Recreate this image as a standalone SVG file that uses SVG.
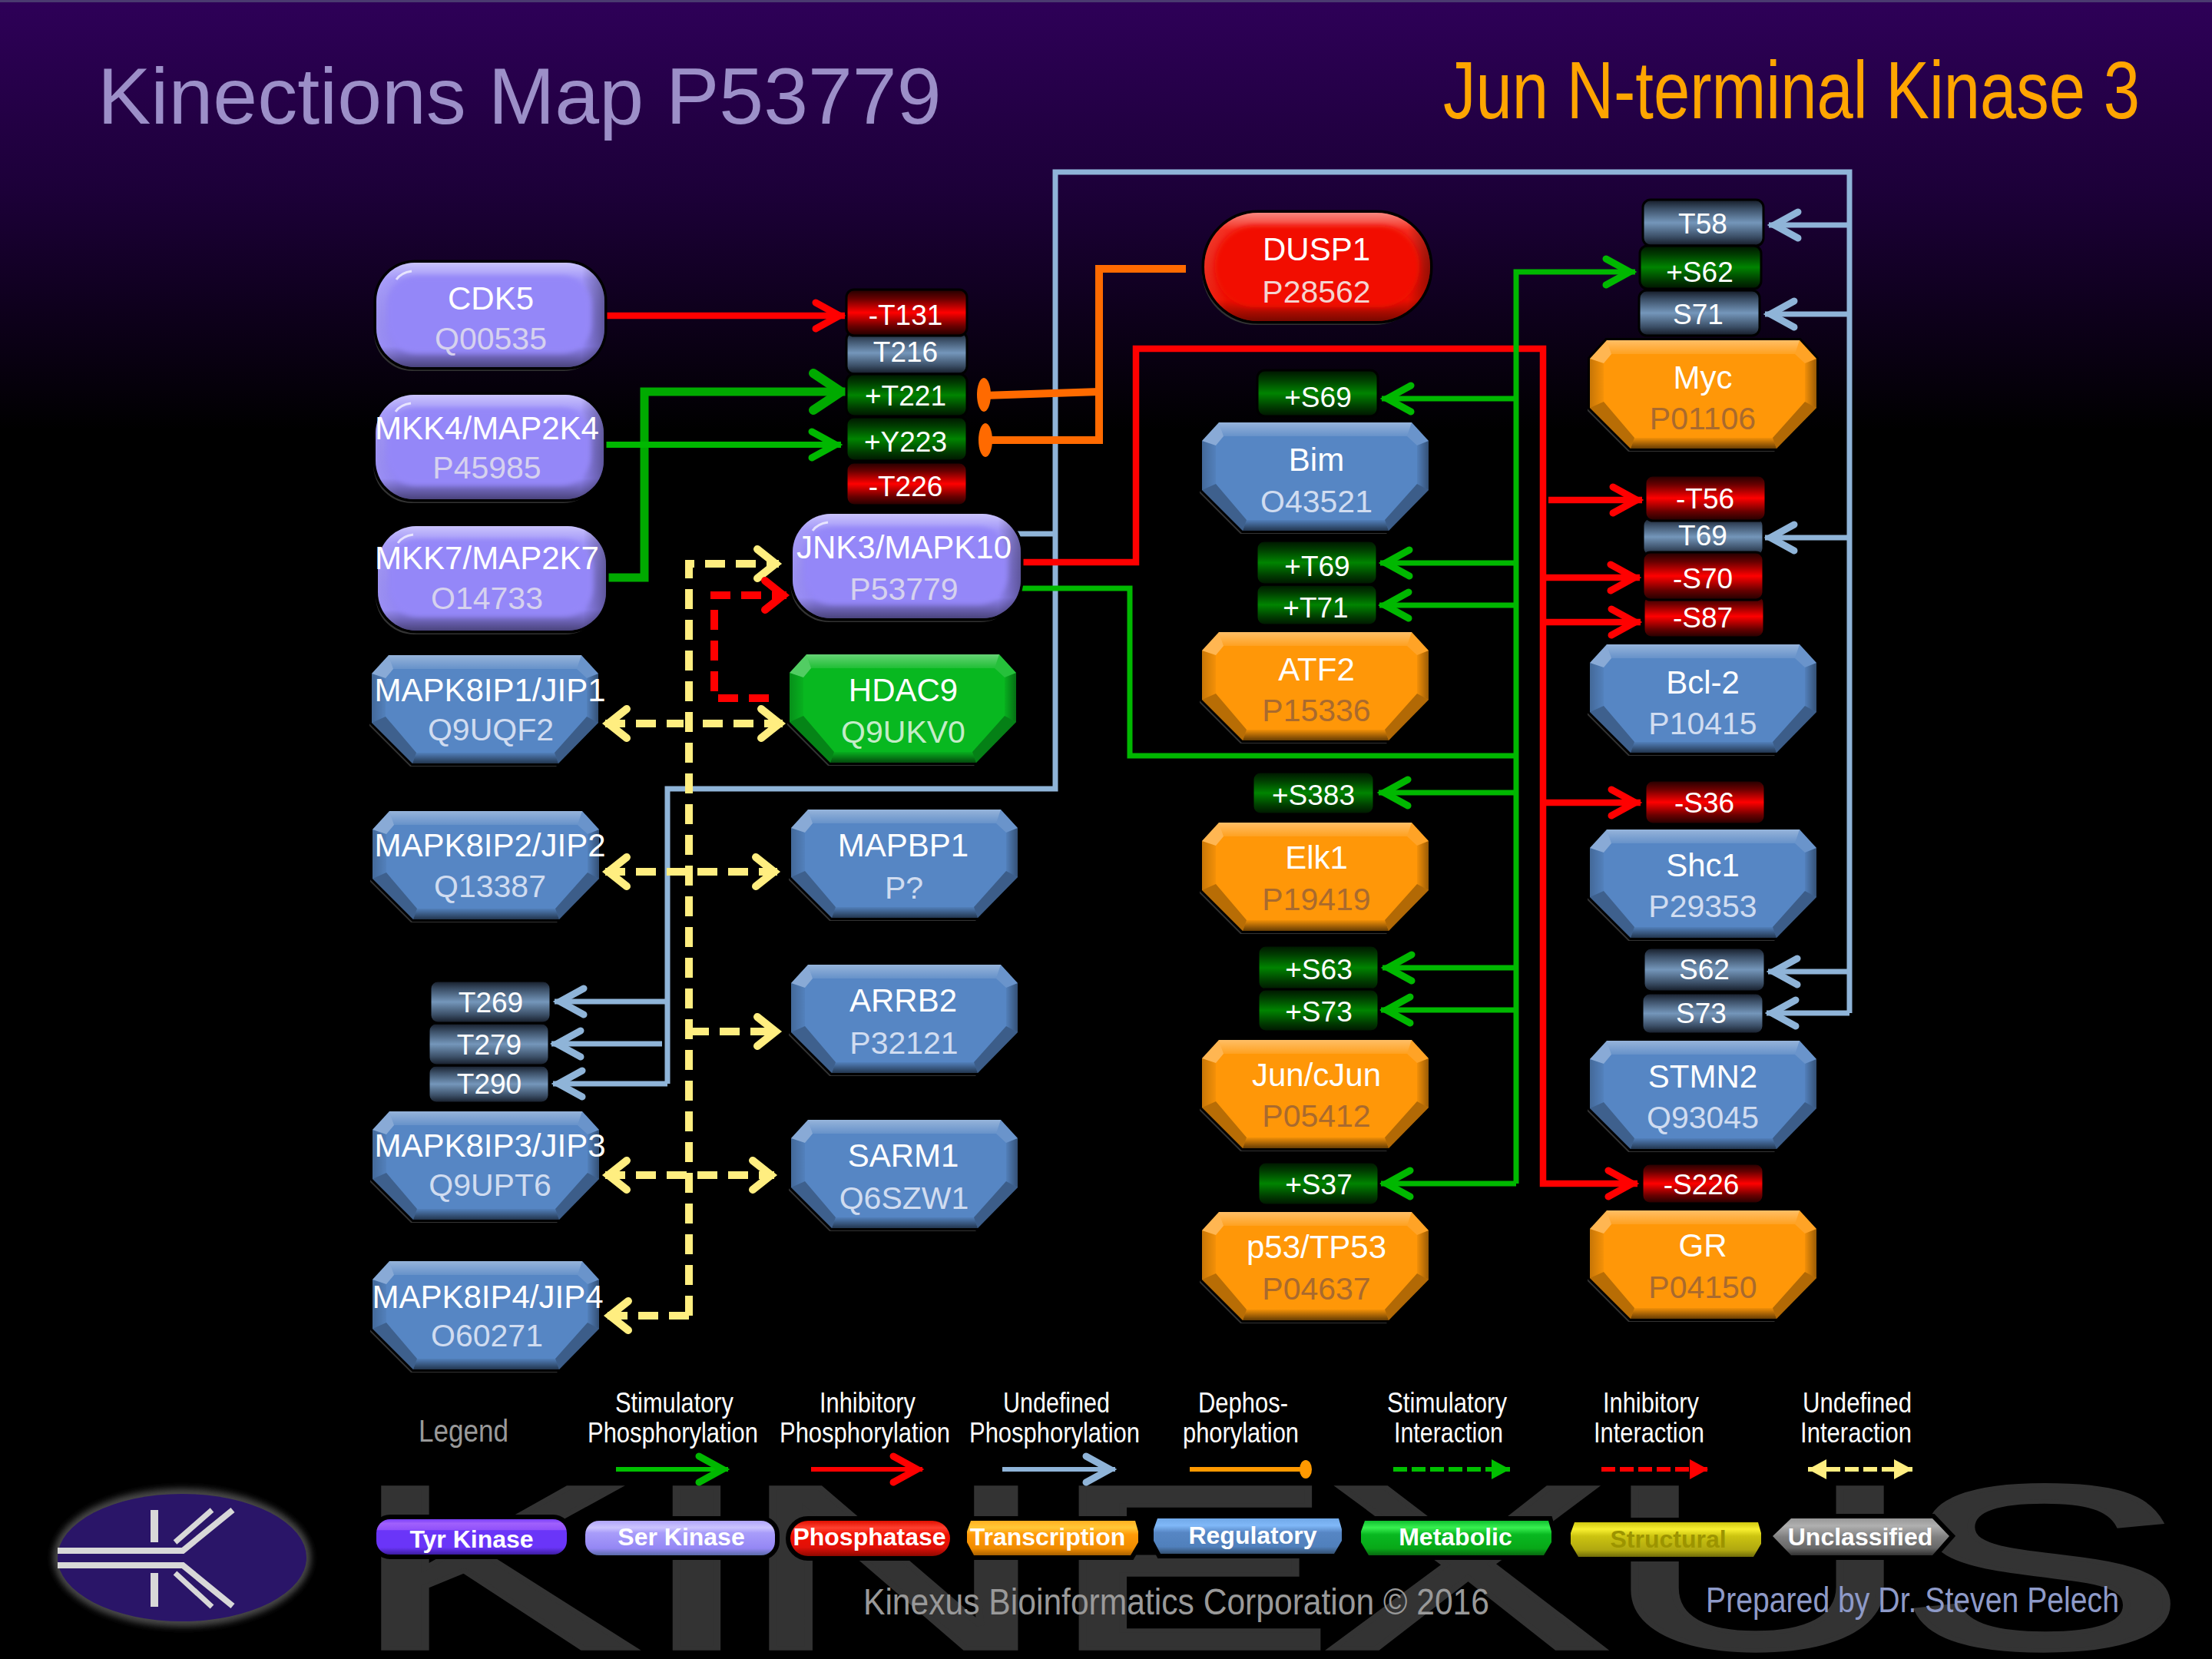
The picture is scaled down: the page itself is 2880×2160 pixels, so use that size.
<svg xmlns="http://www.w3.org/2000/svg" width="2880" height="2160" viewBox="0 0 2880 2160">
<style>
text{font-family:"Liberation Sans",Arial,sans-serif}
.n{font-size:42px;fill:#fff;text-anchor:middle}
.a{font-size:41px;text-anchor:middle}
.a-p{fill:#d6d2ee}.a-b{fill:#d0dcf0}.a-o{fill:#a96a2e}.a-g{fill:#c4ecc8}.a-r{fill:#f4d4d0}
.purple{fill:#9487f8}.blue{fill:#5686c4}.orange{fill:#ff9708}.green{fill:#08b820}.red{fill:#f21000}
.site{rx:10px;stroke:#000;stroke-width:3}
.s-g{fill:url(#siteG)}.s-r{fill:url(#siteR)}.s-u{fill:url(#siteU)}
.t{font-size:37px;fill:#fff;text-anchor:middle}
.c{fill:none;stroke-linejoin:miter}
.gr{stroke:#00b800;stroke-width:7}.rd{stroke:#ff0000;stroke-width:8.5}.bl{stroke:#8fb4d8;stroke-width:7}
.or{stroke:#ff6a00;stroke-width:10}.ye{stroke:#ffee80;stroke-width:10;stroke-dasharray:26 14}
.l{font-size:36px;fill:#fff;text-anchor:start}
.chip{stroke:#000;stroke-width:12;paint-order:stroke}
.cht{font-size:32px;font-weight:bold;fill:#fff;text-anchor:middle}
</style>
<defs>
<linearGradient id="sky" x1="0" y1="0" x2="0" y2="1"><stop offset="0" stop-color="#2e0058"/><stop offset=".45" stop-color="#1c0038"/><stop offset="1" stop-color="#000"/></linearGradient>
<linearGradient id="siteG" x1="0" y1="0" x2="0" y2="1"><stop offset="0" stop-color="#001400"/><stop offset=".2" stop-color="#003c00"/><stop offset=".5" stop-color="#008400"/><stop offset=".8" stop-color="#003c00"/><stop offset="1" stop-color="#001400"/></linearGradient>
<linearGradient id="siteR" x1="0" y1="0" x2="0" y2="1"><stop offset="0" stop-color="#200000"/><stop offset=".2" stop-color="#680000"/><stop offset=".5" stop-color="#ff0000"/><stop offset=".8" stop-color="#680000"/><stop offset="1" stop-color="#200000"/></linearGradient>
<linearGradient id="siteU" x1="0" y1="0" x2="0" y2="1"><stop offset="0" stop-color="#141a26"/><stop offset=".2" stop-color="#3c5068"/><stop offset=".5" stop-color="#7496ba"/><stop offset=".8" stop-color="#3c5068"/><stop offset="1" stop-color="#141a26"/></linearGradient>
<linearGradient id="ovT" x1="0" y1="0" x2="0" y2="1"><stop offset="0" stop-color="#fff" stop-opacity=".38"/><stop offset="1" stop-color="#fff" stop-opacity=".1"/></linearGradient>
<linearGradient id="ovB" x1="0" y1="0" x2="0" y2="1"><stop offset="0" stop-color="#000" stop-opacity=".05"/><stop offset="1" stop-color="#000" stop-opacity=".6"/></linearGradient>
<linearGradient id="ovL" x1="0" y1="0" x2="1" y2="0"><stop offset="0" stop-color="#000" stop-opacity=".22"/><stop offset="1" stop-color="#000" stop-opacity=".04"/></linearGradient>
<linearGradient id="ovR" x1="0" y1="0" x2="1" y2="0"><stop offset="0" stop-color="#000" stop-opacity=".05"/><stop offset="1" stop-color="#000" stop-opacity=".4"/></linearGradient>
<linearGradient id="ovV" x1="0" y1="0" x2="0" y2="1"><stop offset="0" stop-color="#fff" stop-opacity=".5"/><stop offset=".16" stop-color="#fff" stop-opacity=".12"/><stop offset=".8" stop-color="#000" stop-opacity=".02"/><stop offset="1" stop-color="#000" stop-opacity=".5"/></linearGradient>
<linearGradient id="ovH" x1="0" y1="0" x2="1" y2="0"><stop offset="0" stop-color="#fff" stop-opacity=".1"/><stop offset=".1" stop-color="#fff" stop-opacity="0"/><stop offset=".9" stop-color="#000" stop-opacity="0"/><stop offset="1" stop-color="#000" stop-opacity=".35"/></linearGradient>
<filter id="soft" x="-10%" y="-10%" width="120%" height="120%"><feGaussianBlur stdDeviation="3"/></filter>
<filter id="halo" x="-10%" y="-15%" width="120%" height="130%"><feGaussianBlur stdDeviation="4"/></filter>

<!-- bevelled octagon: the use element supplies the face colour -->
<g id="oct">
<polygon points="19,3 270,3 292,28 292,92 240,145 50,145 -3,92 -3,28" fill="#333"/>
<polygon points="22,0 273,0 295,24 295,88 243,141 53,141 0,88 0,24" fill="none" stroke="#000" stroke-width="6"/>
<polygon points="22,0 273,0 295,24 295,88 243,141 53,141 0,88 0,24"/>
<polygon points="22,0 273,0 267,18 28,18" fill="url(#ovT)"/>
<polygon points="0,24 22,0 28,18 18,30" fill="#fff" fill-opacity=".3"/>
<polygon points="273,0 295,24 280,30 267,18" fill="#fff" fill-opacity=".12"/>
<polygon points="0,24 18,30 18,80 0,88" fill="url(#ovL)"/>
<polygon points="295,24 295,88 280,80 280,30" fill="url(#ovR)"/>
<polygon points="0,88 18,80 58,127 53,141" fill="#000" fill-opacity=".28"/>
<polygon points="295,88 280,80 238,127 243,141" fill="#000" fill-opacity=".3"/>
<polygon points="53,141 58,127 238,127 243,141" fill="url(#ovB)"/>
</g>
<!-- rounded kinase body -->
<g id="rnd">
<rect x="-3" y="5" width="297" height="136" rx="50" fill="#333"/>
<rect width="297" height="136" rx="50" fill="none" stroke="#000" stroke-width="7"/>
<rect width="297" height="136" rx="50"/>
<rect width="297" height="136" rx="50" fill="url(#ovV)"/>
<rect width="297" height="136" rx="50" fill="url(#ovH)"/>
<rect x="14" y="17" width="266" height="101" rx="38" filter="url(#soft)"/>
<path d="M26,22Q32,13 46,11" fill="none" stroke="#fff" stroke-opacity=".7" stroke-width="3"/>
</g>
<!-- pill body of the phosphatase -->
<g id="pill">
<rect x="-3" y="5" width="294" height="141" rx="70" fill="#333"/>
<rect width="294" height="141" rx="70" fill="none" stroke="#000" stroke-width="7"/>
<rect width="294" height="141" rx="70"/>
<rect width="294" height="141" rx="70" fill="url(#ovV)"/>
<rect width="294" height="141" rx="70" fill="url(#ovH)"/>
<rect x="14" y="17" width="266" height="106" rx="52" filter="url(#soft)"/>
</g>

<marker id="mGr" markerUnits="userSpaceOnUse" markerWidth="70" markerHeight="70" viewBox="-60 -35 70 70" refX="0" refY="0" orient="auto"><path d="M-38,-17L-7,0L-38,17" fill="none" stroke="#00b800" stroke-width="9" stroke-linecap="round"/></marker>
<marker id="mGrB" markerUnits="userSpaceOnUse" markerWidth="80" markerHeight="80" viewBox="-70 -40 80 80" refX="0" refY="0" orient="auto"><path d="M-42,-24L-6,0L-42,24" fill="none" stroke="#00aa00" stroke-width="12" stroke-linecap="round"/></marker>
<marker id="mRd" markerUnits="userSpaceOnUse" markerWidth="70" markerHeight="70" viewBox="-60 -35 70 70" refX="0" refY="0" orient="auto"><path d="M-38,-17L-7,0L-38,17" fill="none" stroke="#f00" stroke-width="9" stroke-linecap="round"/></marker>
<marker id="mBl" markerUnits="userSpaceOnUse" markerWidth="70" markerHeight="70" viewBox="-60 -35 70 70" refX="0" refY="0" orient="auto"><path d="M-38,-17L-7,0L-38,17" fill="none" stroke="#8fb4d8" stroke-width="9" stroke-linecap="round"/></marker>
<marker id="mYe" markerUnits="userSpaceOnUse" markerWidth="80" markerHeight="80" viewBox="-70 -40 80 80" refX="0" refY="0" orient="auto-start-reverse"><path d="M-28,-19L-4,0L-28,19" fill="none" stroke="#ffee80" stroke-width="10" stroke-linecap="round"/></marker>
<marker id="mRdD" markerUnits="userSpaceOnUse" markerWidth="80" markerHeight="80" viewBox="-70 -40 80 80" refX="0" refY="0" orient="auto"><path d="M-28,-19L-4,0L-28,19" fill="none" stroke="#f00" stroke-width="10" stroke-linecap="round"/></marker>
<marker id="tGr" markerUnits="userSpaceOnUse" markerWidth="40" markerHeight="40" viewBox="-30 -20 40 40" refX="0" refY="0" orient="auto"><path d="M-24,-13L0,0L-24,13Z" fill="#00c000"/></marker>
<marker id="tRd" markerUnits="userSpaceOnUse" markerWidth="40" markerHeight="40" viewBox="-30 -20 40 40" refX="0" refY="0" orient="auto"><path d="M-24,-13L0,0L-24,13Z" fill="#f00"/></marker>
<marker id="tYe" markerUnits="userSpaceOnUse" markerWidth="40" markerHeight="40" viewBox="-30 -20 40 40" refX="0" refY="0" orient="auto-start-reverse"><path d="M-24,-13L0,0L-24,13Z" fill="#ffee80"/></marker>

<linearGradient id="cT" x1="0" y1="0" x2="0" y2="1"><stop offset="0" stop-color="#7a40f8"/><stop offset=".12" stop-color="#a060fc"/><stop offset=".3" stop-color="#9050fa"/><stop offset=".32" stop-color="#6a35f8"/><stop offset=".8" stop-color="#6a35f8"/><stop offset="1" stop-color="#3c1ca0"/></linearGradient>
<linearGradient id="cS" x1="0" y1="0" x2="0" y2="1"><stop offset="0" stop-color="#b0a4fa"/><stop offset=".2" stop-color="#ccc4fe"/><stop offset=".35" stop-color="#a89cfa"/><stop offset=".8" stop-color="#9487f4"/><stop offset="1" stop-color="#5a6aa8"/></linearGradient>
<linearGradient id="cP" x1="0" y1="0" x2="0" y2="1"><stop offset="0" stop-color="#e01000"/><stop offset=".2" stop-color="#ff4030"/><stop offset=".4" stop-color="#f01000"/><stop offset=".75" stop-color="#e01008"/><stop offset="1" stop-color="#900800"/></linearGradient>
<linearGradient id="cO" x1="0" y1="0" x2="0" y2="1"><stop offset="0" stop-color="#ffb020"/><stop offset=".2" stop-color="#ffc838"/><stop offset=".4" stop-color="#ff9a08"/><stop offset=".8" stop-color="#f08c00"/><stop offset="1" stop-color="#a86000"/></linearGradient>
<linearGradient id="cR" x1="0" y1="0" x2="0" y2="1"><stop offset="0" stop-color="#70a8e8"/><stop offset=".2" stop-color="#80b8f8"/><stop offset=".4" stop-color="#5686c4"/><stop offset=".8" stop-color="#5080bc"/><stop offset="1" stop-color="#345070"/></linearGradient>
<linearGradient id="cM" x1="0" y1="0" x2="0" y2="1"><stop offset="0" stop-color="#10c030"/><stop offset=".2" stop-color="#38f050"/><stop offset=".4" stop-color="#08b820"/><stop offset=".8" stop-color="#08a818"/><stop offset="1" stop-color="#086810"/></linearGradient>
<linearGradient id="cY" x1="0" y1="0" x2="0" y2="1"><stop offset="0" stop-color="#d0c810"/><stop offset=".2" stop-color="#f8f030"/><stop offset=".4" stop-color="#ccc410"/><stop offset=".8" stop-color="#b0a810"/><stop offset="1" stop-color="#706c08"/></linearGradient>
<linearGradient id="cU" x1="0" y1="0" x2="0" y2="1"><stop offset="0" stop-color="#989898"/><stop offset=".2" stop-color="#b0b0b0"/><stop offset=".5" stop-color="#808080"/><stop offset=".8" stop-color="#686868"/><stop offset="1" stop-color="#303030"/></linearGradient>
</defs>

<rect width="2880" height="2160" fill="#000"/>
<rect width="2880" height="560" fill="url(#sky)"/>
<rect width="2880" height="3" fill="#4a3a70"/>

<text x="246 448 519 737 931 1127 1336" y="2146" transform="scale(1.85,1)" font-size="304" fill="#333" stroke="#333" stroke-width="8" style="vector-effect:non-scaling-stroke">KINEXUS</text>

<text x="127" y="161" font-size="104" fill="#9c8fc8">Kinections Map P53779</text>
<text x="1879" y="154" font-size="105" fill="#ffa500" textLength="907" lengthAdjust="spacingAndGlyphs">Jun N-terminal Kinase 3</text>

<g id="connectors">
<!-- undefined phosphorylation from JNK3 -->
<path class="c bl" d="M1324,695H1374"/>
<path class="c bl" d="M2408,1319V224H1374V1027H869V1411"/>
<path class="c bl" marker-end="url(#mBl)" d="M2408,293H2303"/>
<path class="c bl" marker-end="url(#mBl)" d="M2405,409H2298"/>
<path class="c bl" marker-end="url(#mBl)" d="M2405,700H2298"/>
<path class="c bl" marker-end="url(#mBl)" d="M2408,1265H2302"/>
<path class="c bl" marker-end="url(#mBl)" d="M2408,1319H2300"/>
<path class="c bl" marker-end="url(#mBl)" d="M869,1304H722"/>
<path class="c bl" marker-end="url(#mBl)" d="M862,1359H718"/>
<path class="c bl" marker-end="url(#mBl)" d="M869,1411H720"/>
<!-- inhibitory phosphorylation -->
<path class="c rd" marker-end="url(#mRd)" d="M786,411H1100"/>
<path class="c rd" marker-end="url(#mRd)" d="M1324,732H1479V454H2009V1541H2132"/>
<path class="c rd" marker-end="url(#mRd)" d="M2016,651H2138"/>
<path class="c rd" marker-end="url(#mRd)" d="M2009,752H2135"/>
<path class="c rd" marker-end="url(#mRd)" d="M2009,810H2136"/>
<path class="c rd" marker-end="url(#mRd)" d="M2009,1045H2136"/>
<!-- stimulatory phosphorylation -->
<path class="c" stroke="#00aa00" stroke-width="11" stroke-linejoin="round" marker-end="url(#mGrB)" d="M789,752H839V510H1101"/>
<path class="c" stroke="#00b800" stroke-width="8" marker-end="url(#mGr)" d="M789,579H1095"/>
<path class="c gr" marker-end="url(#mGr)" d="M1324,766H1471V984H1974M1974,1541V354H2129"/>
<path class="c gr" marker-end="url(#mGr)" d="M1974,519H1799"/>
<path class="c gr" marker-end="url(#mGr)" d="M1974,733H1797"/>
<path class="c gr" marker-end="url(#mGr)" d="M1974,788H1796"/>
<path class="c gr" marker-end="url(#mGr)" d="M1974,1032H1795"/>
<path class="c gr" marker-end="url(#mGr)" d="M1974,1260H1800"/>
<path class="c gr" marker-end="url(#mGr)" d="M1974,1315H1798"/>
<path class="c gr" marker-end="url(#mGr)" d="M1974,1541H1798"/>
<!-- dephosphorylation by DUSP1 -->
<path class="c or" d="M1544,350H1431V573H1283"/>
<path class="c or" d="M1431,510L1281,515"/>
<ellipse cx="1281" cy="514" rx="9" ry="22" fill="#ff6a00"/>
<ellipse cx="1283" cy="573" rx="9" ry="22" fill="#ff6a00"/>
<!-- undefined interactions -->
<path class="c ye" d="M897,1713V734H1014"/>
<path class="c ye" d="M897,1713H790"/>
<path fill="none" marker-end="url(#mYe)" d="M1013,734H1014"/>
<path fill="none" marker-end="url(#mYe)" d="M791,1713H790"/>
<path class="c ye" marker-start="url(#mYe)" d="M788,942H890"/>
<path class="c ye" marker-end="url(#mYe)" d="M915,942H1019"/>
<path class="c ye" marker-start="url(#mYe)" marker-end="url(#mYe)" d="M788,1135H1012"/>
<path class="c ye" marker-end="url(#mYe)" d="M897,1343H1014"/>
<path class="c ye" marker-start="url(#mYe)" marker-end="url(#mYe)" d="M788,1530H1008"/>
<!-- inhibitory interaction from HDAC9 -->
<path class="c" stroke="#f00" stroke-width="10" stroke-dasharray="26 14" marker-end="url(#mRdD)" d="M1001,909H930V775H1024"/>
</g>

<g id="sites">
<g id="site-t216"><rect class="site s-u" x="1102" y="432" width="157" height="55"/><text class="t" x="1179" y="471">T216</text></g>
<g id="site-t131"><rect class="site s-r" x="1102" y="377" width="157" height="60"/><text class="t" x="1179" y="423">-T131</text></g>
<g id="site-t221"><rect class="site s-g" x="1102" y="487" width="157" height="55"/><text class="t" x="1179" y="528">+T221</text></g>
<g id="site-y223"><rect class="site s-g" x="1102" y="543" width="157" height="57"/><text class="t" x="1179" y="588">+Y223</text></g>
<g id="site-t226"><rect class="site s-r" x="1102" y="602" width="157" height="56"/><text class="t" x="1179" y="646">-T226</text></g>
<g id="site-myc-t58"><rect class="site s-u" x="2139" y="260" width="157" height="60"/><text class="t" x="2217" y="304">T58</text></g>
<g id="site-myc-s62"><rect class="site s-g" x="2135" y="320" width="158" height="56"/><text class="t" x="2213" y="367">+S62</text></g>
<g id="site-myc-s71"><rect class="site s-u" x="2134" y="378" width="157" height="59"/><text class="t" x="2211" y="422">S71</text></g>
<g id="site-bim-s69"><rect class="site s-g" x="1637" y="482" width="157" height="60"/><text class="t" x="1716" y="530">+S69</text></g>
<g id="site-atf2-t71"><rect class="site s-g" x="1636" y="761" width="157" height="53"/><text class="t" x="1713" y="804">+T71</text></g>
<g id="site-atf2-t69"><rect class="site s-g" x="1636" y="704" width="157" height="57"/><text class="t" x="1715" y="750">+T69</text></g>
<g id="site-bcl2-t69"><rect class="site s-u" x="2139" y="674" width="157" height="50"/><text class="t" x="2217" y="710">T69</text></g>
<g id="site-bcl2-t56"><rect class="site s-r" x="2142" y="619" width="157" height="59"/><text class="t" x="2220" y="662">-T56</text></g>
<g id="site-bcl2-s87"><rect class="site s-r" x="2140" y="775" width="157" height="55"/><text class="t" x="2217" y="817">-S87</text></g>
<g id="site-bcl2-s70"><rect class="site s-r" x="2139" y="719" width="157" height="62"/><text class="t" x="2217" y="766">-S70</text></g>
<g id="site-elk1-s383"><rect class="site s-g" x="1631" y="1005" width="158" height="55"/><text class="t" x="1710" y="1048">+S383</text></g>
<g id="site-shc1-s36"><rect class="site s-r" x="2142" y="1016" width="156" height="57"/><text class="t" x="2219" y="1058">-S36</text></g>
<g id="site-t290"><rect class="site s-u" x="558" y="1387" width="157" height="49"/><text class="t" x="637" y="1424">T290</text></g>
<g id="site-t279"><rect class="site s-u" x="558" y="1332" width="157" height="55"/><text class="t" x="637" y="1373">T279</text></g>
<g id="site-t269"><rect class="site s-u" x="560" y="1277" width="157" height="55"/><text class="t" x="639" y="1318">T269</text></g>
<g id="site-jun-s63"><rect class="site s-g" x="1638" y="1231" width="157" height="58"/><text class="t" x="1717" y="1275">+S63</text></g>
<g id="site-jun-s73"><rect class="site s-g" x="1638" y="1288" width="157" height="55"/><text class="t" x="1717" y="1330">+S73</text></g>
<g id="site-stmn2-s62"><rect class="site s-u" x="2140" y="1234" width="158" height="57"/><text class="t" x="2219" y="1275">S62</text></g>
<g id="site-stmn2-s73"><rect class="site s-u" x="2138" y="1293" width="158" height="53"/><text class="t" x="2215" y="1332">S73</text></g>
<g id="site-p53-s37"><rect class="site s-g" x="1638" y="1513" width="157" height="56"/><text class="t" x="1717" y="1555">+S37</text></g>
<g id="site-gr-s226"><rect class="site s-r" x="2138" y="1515" width="158" height="52"/><text class="t" x="2215" y="1555">-S226</text></g>
</g>

<g id="node-cdk5"><use class="purple" href="#rnd" x="490" y="342"/><text class="n" x="639" y="403">CDK5</text><text class="a a-p" x="639" y="455">Q00535</text></g>
<g id="node-mkk4"><use class="purple" href="#rnd" x="489" y="514"/><text class="n" x="634" y="572">MKK4/MAP2K4</text><text class="a a-p" x="634" y="623">P45985</text></g>
<g id="node-mkk7"><use class="purple" href="#rnd" x="492" y="685"/><text class="n" x="634" y="741">MKK7/MAP2K7</text><text class="a a-p" x="634" y="793">O14733</text></g>
<g id="node-jnk3"><use class="purple" href="#rnd" x="1032" y="669"/><text class="n" x="1177" y="727">JNK3/MAPK10</text><text class="a a-p" x="1177" y="781">P53779</text></g>
<g id="node-dusp1"><use class="red" href="#pill" x="1568" y="277"/><text class="n" x="1714" y="339">DUSP1</text><text class="a a-r" x="1714" y="394">P28562</text></g>
<g id="node-hdac9"><use class="green" href="#oct" x="1028" y="852"/><text class="n" x="1176" y="913">HDAC9</text><text class="a a-g" x="1176" y="967">Q9UKV0</text></g>
<g id="node-jip1"><use class="blue" href="#oct" x="484" y="853"/><text class="n" x="638" y="913">MAPK8IP1/JIP1</text><text class="a a-b" x="639" y="964">Q9UQF2</text></g>
<g id="node-jip2"><use class="blue" href="#oct" x="485" y="1056"/><text class="n" x="638" y="1115">MAPK8IP2/JIP2</text><text class="a a-b" x="638" y="1168">Q13387</text></g>
<g id="node-jip3"><use class="blue" href="#oct" x="485" y="1447"/><text class="n" x="638" y="1506">MAPK8IP3/JIP3</text><text class="a a-b" x="638" y="1557">Q9UPT6</text></g>
<g id="node-jip4"><use class="blue" href="#oct" x="485" y="1642"/><text class="n" x="635" y="1703">MAPK8IP4/JIP4</text><text class="a a-b" x="634" y="1753">O60271</text></g>
<g id="node-mapbp1"><use class="blue" href="#oct" x="1030" y="1054"/><text class="n" x="1176" y="1115">MAPBP1</text><text class="a a-b" x="1177" y="1170">P?</text></g>
<g id="node-arrb2"><use class="blue" href="#oct" x="1030" y="1256"/><text class="n" x="1176" y="1317">ARRB2</text><text class="a a-b" x="1177" y="1372">P32121</text></g>
<g id="node-sarm1"><use class="blue" href="#oct" x="1030" y="1458"/><text class="n" x="1176" y="1519">SARM1</text><text class="a a-b" x="1177" y="1574">Q6SZW1</text></g>
<g id="node-bim"><use class="blue" href="#oct" x="1565" y="550"/><text class="n" x="1714" y="613">Bim</text><text class="a a-b" x="1714" y="667">O43521</text></g>
<g id="node-atf2"><use class="orange" href="#oct" x="1565" y="823"/><text class="n" x="1714" y="886">ATF2</text><text class="a a-o" x="1714" y="939">P15336</text></g>
<g id="node-elk1"><use class="orange" href="#oct" x="1565" y="1071"/><text class="n" x="1714" y="1131">Elk1</text><text class="a a-o" x="1714" y="1185">P19419</text></g>
<g id="node-jun"><use class="orange" href="#oct" x="1565" y="1354"/><text class="n" x="1714" y="1414">Jun/cJun</text><text class="a a-o" x="1714" y="1467">P05412</text></g>
<g id="node-p53"><use class="orange" href="#oct" x="1565" y="1578"/><text class="n" x="1714" y="1638">p53/TP53</text><text class="a a-o" x="1714" y="1692">P04637</text></g>
<g id="node-myc"><use class="orange" href="#oct" x="2070" y="443"/><text class="n" x="2217" y="506">Myc</text><text class="a a-o" x="2217" y="559">P01106</text></g>
<g id="node-bcl2"><use class="blue" href="#oct" x="2070" y="839"/><text class="n" x="2217" y="903">Bcl-2</text><text class="a a-b" x="2217" y="956">P10415</text></g>
<g id="node-shc1"><use class="blue" href="#oct" x="2070" y="1080"/><text class="n" x="2217" y="1141">Shc1</text><text class="a a-b" x="2217" y="1194">P29353</text></g>
<g id="node-stmn2"><use class="blue" href="#oct" x="2070" y="1355"/><text class="n" x="2217" y="1416">STMN2</text><text class="a a-b" x="2217" y="1469">Q93045</text></g>
<g id="node-gr"><use class="orange" href="#oct" x="2070" y="1576"/><text class="n" x="2217" y="1636">GR</text><text class="a a-o" x="2217" y="1690">P04150</text></g>

<g id="legend">
<text x="545" y="1877" font-size="40" fill="#999" textLength="117" lengthAdjust="spacingAndGlyphs">Legend</text>
<text class="l" x="801" y="1839" textLength="154" lengthAdjust="spacingAndGlyphs">Stimulatory</text>
<text class="l" x="765" y="1878" textLength="222" lengthAdjust="spacingAndGlyphs">Phosphorylation</text>
<text class="l" x="1067" y="1839" textLength="125" lengthAdjust="spacingAndGlyphs">Inhibitory</text>
<text class="l" x="1015" y="1878" textLength="222" lengthAdjust="spacingAndGlyphs">Phosphorylation</text>
<text class="l" x="1306" y="1839" textLength="139" lengthAdjust="spacingAndGlyphs">Undefined</text>
<text class="l" x="1262" y="1878" textLength="222" lengthAdjust="spacingAndGlyphs">Phosphorylation</text>
<text class="l" x="1560" y="1839" textLength="117" lengthAdjust="spacingAndGlyphs">Dephos-</text>
<text class="l" x="1540" y="1878" textLength="151" lengthAdjust="spacingAndGlyphs">phorylation</text>
<text class="l" x="1806" y="1839" textLength="156" lengthAdjust="spacingAndGlyphs">Stimulatory</text>
<text class="l" x="1815" y="1878" textLength="142" lengthAdjust="spacingAndGlyphs">Interaction</text>
<text class="l" x="2087" y="1839" textLength="125" lengthAdjust="spacingAndGlyphs">Inhibitory</text>
<text class="l" x="2075" y="1878" textLength="144" lengthAdjust="spacingAndGlyphs">Interaction</text>
<text class="l" x="2347" y="1839" textLength="142" lengthAdjust="spacingAndGlyphs">Undefined</text>
<text class="l" x="2344" y="1878" textLength="145" lengthAdjust="spacingAndGlyphs">Interaction</text>

<path class="c" stroke="#00c000" stroke-width="6" marker-end="url(#mGr)" d="M802,1913H948"/>
<path class="c" stroke="#f00" stroke-width="6" marker-end="url(#mRd)" d="M1056,1913H1201"/>
<path class="c" stroke="#8fb4d8" stroke-width="6" marker-end="url(#mBl)" d="M1305,1913H1452"/>
<path class="c" stroke="#ff9900" stroke-width="6" d="M1549,1913H1695"/>
<ellipse cx="1700" cy="1913" rx="8" ry="12" fill="#ff9900"/>
<path class="c" stroke="#00c000" stroke-width="6" stroke-dasharray="18 6" marker-end="url(#tGr)" d="M1814,1913H1966"/>
<path class="c" stroke="#f00" stroke-width="6" stroke-dasharray="18 6" marker-end="url(#tRd)" d="M2085,1913H2224"/>
<path class="c" stroke="#ffee80" stroke-width="6" stroke-dasharray="18 6" marker-start="url(#tYe)" marker-end="url(#tYe)" d="M2354,1913H2490"/>

<g id="chip-tyr"><rect class="chip" x="490" y="1978" width="248" height="46" rx="18" fill="url(#cT)"/><text class="cht" x="614" y="2015">Tyr Kinase</text></g>
<g id="chip-ser"><rect class="chip" x="762" y="1980" width="247" height="45" rx="18" fill="url(#cS)"/><text class="cht" x="887" y="2012">Ser Kinase</text></g>
<g id="chip-phosphatase"><rect class="chip" x="1029" y="1980" width="208" height="46" rx="23" fill="url(#cP)"/><text class="cht" x="1132" y="2012">Phosphatase</text></g>
<g id="chip-transcription"><polygon class="chip" points="1264,1980 1478,1980 1482,1994 1482,2008 1472,2025 1268,2025 1259,2008 1259,1994" fill="url(#cO)"/><text class="cht" x="1364" y="2012">Transcription</text></g>
<g id="chip-regulatory"><polygon class="chip" points="1507,1977 1743,1977 1747,1991 1747,2006 1737,2023 1511,2023 1502,2006 1502,1991" fill="url(#cR)"/><text class="cht" x="1631" y="2010">Regulatory</text></g>
<g id="chip-metabolic"><polygon class="chip" points="1777,1980 2016,1980 2020,1994 2020,2008 2010,2025 1782,2025 1772,2008 1772,1994" fill="url(#cM)"/><text class="cht" x="1895" y="2012">Metabolic</text></g>
<g id="chip-structural"><polygon class="chip" points="2050,1982 2289,1982 2293,1996 2293,2010 2283,2027 2055,2027 2045,2010 2045,1996" fill="url(#cY)"/><text class="cht" x="2172" y="2015" style="fill:#9c9400">Structural</text></g>
<g id="chip-unclassified"><polygon class="chip" points="2332,1977 2516,1977 2538,2000 2516,2025 2332,2025 2308,2000" fill="url(#cU)"/><text class="cht" x="2422" y="2012">Unclassified</text></g>
</g>

<g id="logo">
<ellipse cx="237" cy="2028" rx="168" ry="90" fill="#4a4a4a" filter="url(#halo)"/>
<ellipse cx="237" cy="2028" rx="162" ry="83" fill="#2a1568"/>
<g fill="none" stroke="#d8d8d8">
<path stroke-width="8" d="M75,2019H238L303,1966M75,2038H238L303,2091"/>
<path stroke-width="10" d="M201,1966V2008M201,2048V2092"/>
<path stroke-width="7" d="M228,2008L276,1966M228,2048L276,2092"/>
</g>
</g>

<text x="1124" y="2102" font-size="48" fill="#999" textLength="815" lengthAdjust="spacingAndGlyphs">Kinexus Bioinformatics Corporation © 2016</text>
<text x="2221" y="2099" font-size="46" fill="#8e9ac8" textLength="538" lengthAdjust="spacingAndGlyphs">Prepared by Dr. Steven Pelech</text>
</svg>
